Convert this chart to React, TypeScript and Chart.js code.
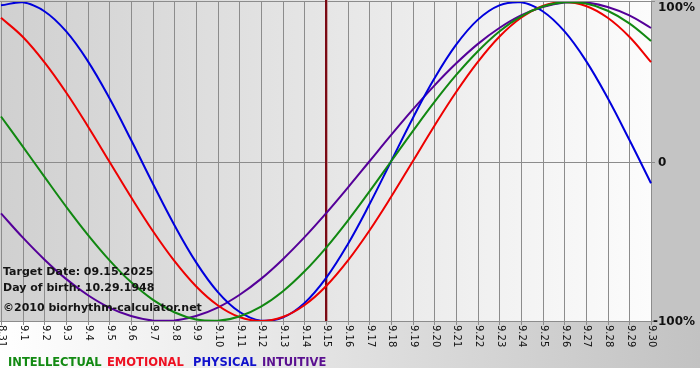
import React, { useEffect, useRef } from "react";
import { Chart, registerables } from "chart.js";

Chart.register(...registerables);

const dayLabels = [
  "8.31", "9.1", "9.2", "9.3", "9.4", "9.5", "9.6", "9.7", "9.8", "9.9", "9.10",
  "9.11", "9.12", "9.13", "9.14", "9.15", "9.16", "9.17", "9.18", "9.19", "9.20",
  "9.21", "9.22", "9.23", "9.24", "9.25", "9.26", "9.27", "9.28", "9.29", "9.30",
];

const intellectual = [
  28.2, 9.5, -9.5, -28.2, -45.8, -61.8, -75.6, -86.6, -94.5, -99.0, -99.9,
  -97.2, -91.0, -81.5, -69.0, -54.1, -37.2, -18.9, 0, 18.9, 37.2,
  54.1, 69.0, 81.5, 91.0, 97.2, 99.9, 99.0, 94.5, 86.6, 75.6,
];
const emotional = [
  90.1, 78.2, 62.3, 43.4, 22.3, 0, -22.3, -43.4, -62.3, -78.2, -90.1,
  -97.5, -100, -97.5, -90.1, -78.2, -62.3, -43.4, -22.3, 0, 22.3,
  43.4, 62.3, 78.2, 90.1, 97.5, 100, 97.5, 90.1, 78.2, 62.3,
];
const physical = [
  97.9, 99.8, 94.2, 81.7, 63.1, 39.8, 13.6, -13.6, -39.8, -63.1, -81.7,
  -94.2, -99.8, -97.9, -88.8, -73.1, -52.0, -27.0, 0, 27.0, 52.0,
  73.1, 88.8, 97.9, 99.8, 94.2, 81.7, 63.1, 39.8, 13.6, -13.6,
];
const intuitive = [
  -32.5, -47.6, -61.4, -73.6, -83.7, -91.6, -96.9, -99.7, -99.7, -96.9, -91.6,
  -83.7, -73.6, -61.4, -47.6, -32.5, -16.5, 0, 16.5, 32.5, 47.6,
  61.4, 73.6, 83.7, 91.6, 96.9, 99.7, 99.7, 96.9, 91.6, 83.7,
];

const targetIndex = 15;
const yTicks = [100, 0, -100];
const yTickText = ["100%", "0", "-100%"];
const infoLines = ["Target Date: 09.15.2025", "Day of birth: 10.29.1948", "\u00a92010 biorhythm-calculator.net"];
const legendTexts = ["INTELLECTUAL", "EMOTIONAL", "PHYSICAL", "INTUITIVE"];
const legendColors = ["#138a13", "#ee1122", "#1111cc", "#5a1090"];

const FONT = "'DejaVu Sans', Verdana, sans-serif";
const LEGEND_X = [8, 107, 193, 262];

const bgPlugin = {
  id: "bioBg",
  beforeDatasetsDraw(chart: any) {
    const { ctx, chartArea: a, width, height } = chart;
    const xs = chart.scales.x;
    const ys = chart.scales.y;
    ctx.save();
    ctx.fillStyle = "#ffffff";
    ctx.fillRect(0, 0, width, height);
    const bandBottom = 368;
    const g1 = ctx.createLinearGradient(0, 0, width, 0);
    g1.addColorStop(0, "#ffffff");
    g1.addColorStop(1, "#c2c2c2");
    ctx.fillStyle = g1;
    ctx.fillRect(0, a.bottom, width, bandBottom - a.bottom);
    ctx.fillStyle = "#c4c4c4";
    ctx.fillRect(a.right, 0, width - a.right, a.bottom);
    const g2 = ctx.createLinearGradient(a.left, 0, a.right, 0);
    g2.addColorStop(0, "#d0d0d0");
    g2.addColorStop(1, "#fcfcfc");
    ctx.fillStyle = g2;
    ctx.fillRect(0, 0, a.right, a.bottom);

    ctx.strokeStyle = "#8c8c8c";
    ctx.lineWidth = 1;
    for (let i = 0; i < dayLabels.length; i++) {
      const x = Math.round(xs.getPixelForValue(i)) + 0.5;
      ctx.beginPath();
      ctx.moveTo(x, a.top);
      ctx.lineTo(x, a.bottom + 4);
      ctx.stroke();
    }
    const y0 = Math.round(ys.getPixelForValue(0)) + 0.5;
    ctx.beginPath();
    ctx.moveTo(0, y0);
    ctx.lineTo(a.right + 4, y0);
    ctx.stroke();
    const yt = Math.round(ys.getPixelForValue(100)) - 0.5;
    const yb = Math.round(ys.getPixelForValue(-100)) + 0.5;
    ctx.beginPath();
    ctx.moveTo(0, yt);
    ctx.lineTo(a.right + 4, yt);
    ctx.moveTo(0, yb);
    ctx.lineTo(a.right + 4, yb);
    ctx.stroke();

    const tx = Math.round(xs.getPixelForValue(targetIndex));
    ctx.fillStyle = "#7a0a14";
    ctx.fillRect(tx - 1, 0, 2, a.bottom);
    ctx.fillStyle = "rgba(180,110,110,0.6)";
    ctx.fillRect(tx + 1, 0, 1, a.bottom);
    ctx.restore();
  },
  afterDatasetsDraw(chart: any) {
    const { ctx, chartArea: a } = chart;
    const xs = chart.scales.x;
    const ys = chart.scales.y;
    ctx.save();
    ctx.fillStyle = "#111111";
    ctx.font = `10px ${FONT}`;
    ctx.textBaseline = "middle";
    ctx.textAlign = "left";
    for (let i = 0; i < dayLabels.length; i++) {
      const x = xs.getPixelForValue(i);
      ctx.save();
      ctx.translate(x + 1, a.bottom + 4);
      ctx.rotate(Math.PI / 2);
      ctx.fillText(dayLabels[i], 0, 0);
      ctx.restore();
    }
    ctx.font = `bold 12px ${FONT}`;
    ctx.fillStyle = "#111111";
    ctx.textBaseline = "middle";
    for (let i = 0; i < yTicks.length; i++) {
      const y = ys.getPixelForValue(yTicks[i]);
      const xOff = yTicks[i] < 0 ? 2 : 7;
      ctx.fillText(yTickText[i], a.right + xOff, y + (yTicks[i] === 100 ? 6 : 1));
    }
    ctx.font = `bold 11px ${FONT}`;
    ctx.fillStyle = "#141414";
    ctx.textBaseline = "alphabetic";
    ctx.fillText(infoLines[0], 3, 275);
    ctx.fillText(infoLines[1], 3, 291);
    ctx.fillText(infoLines[2], 3, 311);
    ctx.font = `bold 11.5px ${FONT}`;
    for (let i = 0; i < legendTexts.length; i++) {
      ctx.fillStyle = legendColors[i];
      ctx.fillText(legendTexts[i], LEGEND_X[i], 366);
    }
    ctx.restore();
  },
};

export default function App() {
  const ref = useRef<HTMLCanvasElement | null>(null);
  useEffect(() => {
    document.body.style.margin = "0";
    const canvas = ref.current;
    if (!canvas) return;
    const mk = (label: string, data: number[], color: string) => ({
      label,
      data,
      borderColor: color,
      backgroundColor: color,
      borderWidth: 2,
      pointRadius: 0,
      tension: 0.4,
      fill: false,
    });
    const chart = new Chart(canvas, {
      type: "line",
      data: {
        labels: dayLabels,
        datasets: [
          mk("INTELLECTUAL", intellectual, "#118811"),
          mk("EMOTIONAL", emotional, "#ee0000"),
          mk("PHYSICAL", physical, "#0000dd"),
          mk("INTUITIVE", intuitive, "#550099"),
        ],
      },
      options: {
        animation: false,
        responsive: false,
        devicePixelRatio: 1,
        layout: { padding: { left: 1, top: 2, right: 49, bottom: 59 } },
        plugins: { legend: { display: false }, tooltip: { enabled: false } },
        scales: {
          x: { display: false, offset: false },
          y: { display: false, min: -100, max: 100 },
        },
      },
      plugins: [bgPlugin],
    });
    return () => chart.destroy();
  }, []);
  return <canvas ref={ref} width={700} height={380} style={{ display: "block" }} />;
}
